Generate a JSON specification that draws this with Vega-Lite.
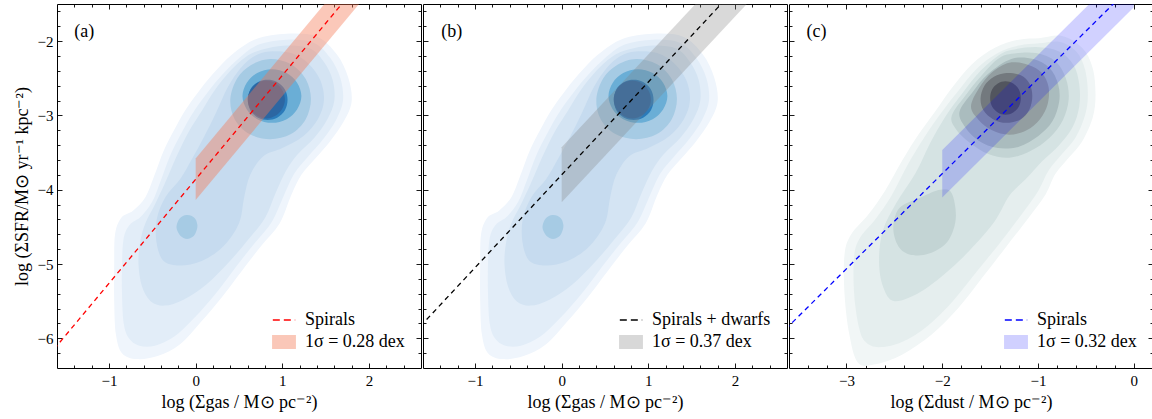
{
"$schema":"https://vega.github.io/schema/vega-lite/v6.json",
"padding":{"left":12,"top":3,"right":0,"bottom":0},
"spacing":0,
"config":{
 "view":{"stroke":"#000","strokeWidth":1},
 "font":"Liberation Serif",
 "axis":{"domain":false,"grid":false,"ticks":true,"tickColor":"#000","tickWidth":0.9,"labelFont":"Liberation Serif","labelFontSize":15,"labelColor":"#000","titleFont":"Liberation Serif","titleFontSize":18,"titleFontWeight":"normal","titleColor":"#000","minExtent":0,"labelFlush":false,"labelOverlap":false,"zindex":1},
 "legend":{"labelFont":"Liberation Serif","labelFontSize":18,"labelColor":"#000","padding":0}
},
"datasets":{
"gas":[
{"poly":"g1","lev":1,"i":0,"x":0.70,"y":-1.97},{"poly":"g1","lev":1,"i":1,"x":1.05,"y":-1.90},{"poly":"g1","lev":1,"i":2,"x":1.40,"y":-1.94},{"poly":"g1","lev":1,"i":3,"x":1.63,"y":-2.18},{"poly":"g1","lev":1,"i":4,"x":1.76,"y":-2.49},{"poly":"g1","lev":1,"i":5,"x":1.80,"y":-2.81},{"poly":"g1","lev":1,"i":6,"x":1.71,"y":-3.08},{"poly":"g1","lev":1,"i":7,"x":1.55,"y":-3.35},{"poly":"g1","lev":1,"i":8,"x":1.38,"y":-3.58},{"poly":"g1","lev":1,"i":9,"x":1.22,"y":-3.80},{"poly":"g1","lev":1,"i":10,"x":1.10,"y":-4.08},{"poly":"g1","lev":1,"i":11,"x":0.97,"y":-4.45},{"poly":"g1","lev":1,"i":12,"x":0.76,"y":-4.75},{"poly":"g1","lev":1,"i":13,"x":0.56,"y":-5.05},{"poly":"g1","lev":1,"i":14,"x":0.30,"y":-5.45},{"poly":"g1","lev":1,"i":15,"x":0.06,"y":-5.78},{"poly":"g1","lev":1,"i":16,"x":-0.18,"y":-6.08},{"poly":"g1","lev":1,"i":17,"x":-0.44,"y":-6.24},{"poly":"g1","lev":1,"i":18,"x":-0.68,"y":-6.28},{"poly":"g1","lev":1,"i":19,"x":-0.85,"y":-6.20},{"poly":"g1","lev":1,"i":20,"x":-0.92,"y":-5.95},{"poly":"g1","lev":1,"i":21,"x":-0.94,"y":-5.50},{"poly":"g1","lev":1,"i":22,"x":-0.94,"y":-5.00},{"poly":"g1","lev":1,"i":23,"x":-0.93,"y":-4.60},{"poly":"g1","lev":1,"i":24,"x":-0.86,"y":-4.38},{"poly":"g1","lev":1,"i":25,"x":-0.72,"y":-4.28},{"poly":"g1","lev":1,"i":26,"x":-0.58,"y":-4.10},{"poly":"g1","lev":1,"i":27,"x":-0.48,"y":-3.82},{"poly":"g1","lev":1,"i":28,"x":-0.37,"y":-3.48},{"poly":"g1","lev":1,"i":29,"x":-0.25,"y":-3.20},{"poly":"g1","lev":1,"i":30,"x":-0.12,"y":-2.93},{"poly":"g1","lev":1,"i":31,"x":0.02,"y":-2.70},{"poly":"g1","lev":1,"i":32,"x":0.20,"y":-2.44},{"poly":"g1","lev":1,"i":33,"x":0.42,"y":-2.18},
{"poly":"g2","lev":2,"i":0,"x":0.72,"y":-2.05},{"poly":"g2","lev":2,"i":1,"x":1.05,"y":-1.98},{"poly":"g2","lev":2,"i":2,"x":1.36,"y":-2.02},{"poly":"g2","lev":2,"i":3,"x":1.55,"y":-2.22},{"poly":"g2","lev":2,"i":4,"x":1.67,"y":-2.50},{"poly":"g2","lev":2,"i":5,"x":1.70,"y":-2.80},{"poly":"g2","lev":2,"i":6,"x":1.62,"y":-3.06},{"poly":"g2","lev":2,"i":7,"x":1.47,"y":-3.32},{"poly":"g2","lev":2,"i":8,"x":1.30,"y":-3.55},{"poly":"g2","lev":2,"i":9,"x":1.14,"y":-3.78},{"poly":"g2","lev":2,"i":10,"x":1.02,"y":-4.07},{"poly":"g2","lev":2,"i":11,"x":0.88,"y":-4.43},{"poly":"g2","lev":2,"i":12,"x":0.68,"y":-4.72},{"poly":"g2","lev":2,"i":13,"x":0.47,"y":-5.03},{"poly":"g2","lev":2,"i":14,"x":0.23,"y":-5.40},{"poly":"g2","lev":2,"i":15,"x":-0.02,"y":-5.73},{"poly":"g2","lev":2,"i":16,"x":-0.25,"y":-5.98},{"poly":"g2","lev":2,"i":17,"x":-0.47,"y":-6.10},{"poly":"g2","lev":2,"i":18,"x":-0.65,"y":-6.10},{"poly":"g2","lev":2,"i":19,"x":-0.77,"y":-6.00},{"poly":"g2","lev":2,"i":20,"x":-0.83,"y":-5.80},{"poly":"g2","lev":2,"i":21,"x":-0.85,"y":-5.40},{"poly":"g2","lev":2,"i":22,"x":-0.85,"y":-5.00},{"poly":"g2","lev":2,"i":23,"x":-0.83,"y":-4.65},{"poly":"g2","lev":2,"i":24,"x":-0.76,"y":-4.47},{"poly":"g2","lev":2,"i":25,"x":-0.63,"y":-4.36},{"poly":"g2","lev":2,"i":26,"x":-0.50,"y":-4.16},{"poly":"g2","lev":2,"i":27,"x":-0.40,"y":-3.87},{"poly":"g2","lev":2,"i":28,"x":-0.29,"y":-3.53},{"poly":"g2","lev":2,"i":29,"x":-0.17,"y":-3.25},{"poly":"g2","lev":2,"i":30,"x":-0.04,"y":-2.98},{"poly":"g2","lev":2,"i":31,"x":0.10,"y":-2.75},{"poly":"g2","lev":2,"i":32,"x":0.27,"y":-2.50},{"poly":"g2","lev":2,"i":33,"x":0.47,"y":-2.26},
{"poly":"g3","lev":3,"i":0,"x":0.75,"y":-2.12},{"poly":"g3","lev":3,"i":1,"x":1.05,"y":-2.06},{"poly":"g3","lev":3,"i":2,"x":1.32,"y":-2.10},{"poly":"g3","lev":3,"i":3,"x":1.48,"y":-2.28},{"poly":"g3","lev":3,"i":4,"x":1.58,"y":-2.52},{"poly":"g3","lev":3,"i":5,"x":1.60,"y":-2.80},{"poly":"g3","lev":3,"i":6,"x":1.52,"y":-3.05},{"poly":"g3","lev":3,"i":7,"x":1.37,"y":-3.30},{"poly":"g3","lev":3,"i":8,"x":1.18,"y":-3.52},{"poly":"g3","lev":3,"i":9,"x":1.04,"y":-3.75},{"poly":"g3","lev":3,"i":10,"x":0.92,"y":-4.05},{"poly":"g3","lev":3,"i":11,"x":0.80,"y":-4.38},{"poly":"g3","lev":3,"i":12,"x":0.60,"y":-4.68},{"poly":"g3","lev":3,"i":13,"x":0.38,"y":-4.98},{"poly":"g3","lev":3,"i":14,"x":0.12,"y":-5.28},{"poly":"g3","lev":3,"i":15,"x":-0.14,"y":-5.48},{"poly":"g3","lev":3,"i":16,"x":-0.36,"y":-5.56},{"poly":"g3","lev":3,"i":17,"x":-0.52,"y":-5.50},{"poly":"g3","lev":3,"i":18,"x":-0.62,"y":-5.30},{"poly":"g3","lev":3,"i":19,"x":-0.66,"y":-5.00},{"poly":"g3","lev":3,"i":20,"x":-0.64,"y":-4.70},{"poly":"g3","lev":3,"i":21,"x":-0.58,"y":-4.45},{"poly":"g3","lev":3,"i":22,"x":-0.47,"y":-4.20},{"poly":"g3","lev":3,"i":23,"x":-0.35,"y":-3.90},{"poly":"g3","lev":3,"i":24,"x":-0.22,"y":-3.55},{"poly":"g3","lev":3,"i":25,"x":-0.08,"y":-3.22},{"poly":"g3","lev":3,"i":26,"x":0.07,"y":-2.94},{"poly":"g3","lev":3,"i":27,"x":0.22,"y":-2.66},{"poly":"g3","lev":3,"i":28,"x":0.40,"y":-2.40},{"poly":"g3","lev":3,"i":29,"x":0.57,"y":-2.22},
{"poly":"g4","lev":4,"i":0,"x":0.85,"y":-2.14},{"poly":"g4","lev":4,"i":1,"x":1.10,"y":-2.16},{"poly":"g4","lev":4,"i":2,"x":1.30,"y":-2.30},{"poly":"g4","lev":4,"i":3,"x":1.44,"y":-2.53},{"poly":"g4","lev":4,"i":4,"x":1.48,"y":-2.80},{"poly":"g4","lev":4,"i":5,"x":1.41,"y":-3.05},{"poly":"g4","lev":4,"i":6,"x":1.24,"y":-3.28},{"poly":"g4","lev":4,"i":7,"x":1.00,"y":-3.44},{"poly":"g4","lev":4,"i":8,"x":0.78,"y":-3.55},{"poly":"g4","lev":4,"i":9,"x":0.63,"y":-3.80},{"poly":"g4","lev":4,"i":10,"x":0.56,"y":-4.10},{"poly":"g4","lev":4,"i":11,"x":0.50,"y":-4.45},{"poly":"g4","lev":4,"i":12,"x":0.32,"y":-4.76},{"poly":"g4","lev":4,"i":13,"x":0.07,"y":-4.96},{"poly":"g4","lev":4,"i":14,"x":-0.18,"y":-5.02},{"poly":"g4","lev":4,"i":15,"x":-0.37,"y":-4.96},{"poly":"g4","lev":4,"i":16,"x":-0.45,"y":-4.72},{"poly":"g4","lev":4,"i":17,"x":-0.45,"y":-4.40},{"poly":"g4","lev":4,"i":18,"x":-0.35,"y":-4.10},{"poly":"g4","lev":4,"i":19,"x":-0.18,"y":-3.86},{"poly":"g4","lev":4,"i":20,"x":-0.04,"y":-3.58},{"poly":"g4","lev":4,"i":21,"x":0.10,"y":-3.28},{"poly":"g4","lev":4,"i":22,"x":0.24,"y":-2.95},{"poly":"g4","lev":4,"i":23,"x":0.37,"y":-2.62},{"poly":"g4","lev":4,"i":24,"x":0.52,"y":-2.36},{"poly":"g4","lev":4,"i":25,"x":0.68,"y":-2.20},
{"poly":"g5a","lev":5,"i":0,"x":1.33,"y":-2.78},{"poly":"g5a","lev":5,"i":1,"x":1.27,"y":-2.51},{"poly":"g5a","lev":5,"i":2,"x":1.10,"y":-2.31},{"poly":"g5a","lev":5,"i":3,"x":0.86,"y":-2.24},{"poly":"g5a","lev":5,"i":4,"x":0.64,"y":-2.32},{"poly":"g5a","lev":5,"i":5,"x":0.48,"y":-2.50},{"poly":"g5a","lev":5,"i":6,"x":0.40,"y":-2.78},{"poly":"g5a","lev":5,"i":7,"x":0.45,"y":-3.05},{"poly":"g5a","lev":5,"i":8,"x":0.62,"y":-3.25},{"poly":"g5a","lev":5,"i":9,"x":0.86,"y":-3.32},{"poly":"g5a","lev":5,"i":10,"x":1.10,"y":-3.25},{"poly":"g5a","lev":5,"i":11,"x":1.27,"y":-3.05},
{"poly":"g5b","lev":5,"i":0,"x":0.02,"y":-4.48},{"poly":"g5b","lev":5,"i":1,"x":0.0,"y":-4.40},{"poly":"g5b","lev":5,"i":2,"x":-0.05,"y":-4.35},{"poly":"g5b","lev":5,"i":3,"x":-0.11,"y":-4.34},{"poly":"g5b","lev":5,"i":4,"x":-0.17,"y":-4.37},{"poly":"g5b","lev":5,"i":5,"x":-0.21,"y":-4.44},{"poly":"g5b","lev":5,"i":6,"x":-0.22,"y":-4.52},{"poly":"g5b","lev":5,"i":7,"x":-0.19,"y":-4.60},{"poly":"g5b","lev":5,"i":8,"x":-0.14,"y":-4.65},{"poly":"g5b","lev":5,"i":9,"x":-0.08,"y":-4.66},{"poly":"g5b","lev":5,"i":10,"x":-0.02,"y":-4.62},{"poly":"g5b","lev":5,"i":11,"x":0.01,"y":-4.55},
{"poly":"g6","lev":6,"i":0,"x":1.22,"y":-2.74},{"poly":"g6","lev":6,"i":1,"x":1.17,"y":-2.56},{"poly":"g6","lev":6,"i":2,"x":1.05,"y":-2.43},{"poly":"g6","lev":6,"i":3,"x":0.88,"y":-2.38},{"poly":"g6","lev":6,"i":4,"x":0.71,"y":-2.43},{"poly":"g6","lev":6,"i":5,"x":0.59,"y":-2.56},{"poly":"g6","lev":6,"i":6,"x":0.54,"y":-2.74},{"poly":"g6","lev":6,"i":7,"x":0.59,"y":-2.92},{"poly":"g6","lev":6,"i":8,"x":0.71,"y":-3.05},{"poly":"g6","lev":6,"i":9,"x":0.88,"y":-3.10},{"poly":"g6","lev":6,"i":10,"x":1.05,"y":-3.05},{"poly":"g6","lev":6,"i":11,"x":1.17,"y":-2.92},
{"poly":"g7","lev":7,"i":0,"x":1.06,"y":-2.79},{"poly":"g7","lev":7,"i":1,"x":1.03,"y":-2.65},{"poly":"g7","lev":7,"i":2,"x":0.94,"y":-2.55},{"poly":"g7","lev":7,"i":3,"x":0.83,"y":-2.52},{"poly":"g7","lev":7,"i":4,"x":0.72,"y":-2.55},{"poly":"g7","lev":7,"i":5,"x":0.63,"y":-2.65},{"poly":"g7","lev":7,"i":6,"x":0.605,"y":-2.79},{"poly":"g7","lev":7,"i":7,"x":0.63,"y":-2.93},{"poly":"g7","lev":7,"i":8,"x":0.72,"y":-3.03},{"poly":"g7","lev":7,"i":9,"x":0.83,"y":-3.06},{"poly":"g7","lev":7,"i":10,"x":0.94,"y":-3.03},{"poly":"g7","lev":7,"i":11,"x":1.03,"y":-2.93},
{"poly":"g8","lev":8,"i":0,"x":1.03,"y":-2.785},{"poly":"g8","lev":8,"i":1,"x":1.00,"y":-2.66},{"poly":"g8","lev":8,"i":2,"x":0.92,"y":-2.565},{"poly":"g8","lev":8,"i":3,"x":0.815,"y":-2.53},{"poly":"g8","lev":8,"i":4,"x":0.71,"y":-2.565},{"poly":"g8","lev":8,"i":5,"x":0.63,"y":-2.66},{"poly":"g8","lev":8,"i":6,"x":0.60,"y":-2.785},{"poly":"g8","lev":8,"i":7,"x":0.63,"y":-2.91},{"poly":"g8","lev":8,"i":8,"x":0.71,"y":-3.005},{"poly":"g8","lev":8,"i":9,"x":0.815,"y":-3.04},{"poly":"g8","lev":8,"i":10,"x":0.92,"y":-3.005},{"poly":"g8","lev":8,"i":11,"x":1.00,"y":-2.91}
],
"dust":[
{"poly":"d1","lev":1,"i":0,"x":-1.20,"y":-1.98},{"poly":"d1","lev":1,"i":1,"x":-0.99,"y":-1.96},{"poly":"d1","lev":1,"i":2,"x":-0.75,"y":-1.93},{"poly":"d1","lev":1,"i":3,"x":-0.54,"y":-2.09},{"poly":"d1","lev":1,"i":4,"x":-0.43,"y":-2.36},{"poly":"d1","lev":1,"i":5,"x":-0.40,"y":-2.72},{"poly":"d1","lev":1,"i":6,"x":-0.43,"y":-3.03},{"poly":"d1","lev":1,"i":7,"x":-0.54,"y":-3.35},{"poly":"d1","lev":1,"i":8,"x":-0.68,"y":-3.57},{"poly":"d1","lev":1,"i":9,"x":-0.82,"y":-3.79},{"poly":"d1","lev":1,"i":10,"x":-0.92,"y":-4.06},{"poly":"d1","lev":1,"i":11,"x":-1.10,"y":-4.38},{"poly":"d1","lev":1,"i":12,"x":-1.34,"y":-4.78},{"poly":"d1","lev":1,"i":13,"x":-1.58,"y":-5.18},{"poly":"d1","lev":1,"i":14,"x":-1.83,"y":-5.59},{"poly":"d1","lev":1,"i":15,"x":-2.11,"y":-5.95},{"poly":"d1","lev":1,"i":16,"x":-2.42,"y":-6.22},{"poly":"d1","lev":1,"i":17,"x":-2.70,"y":-6.35},{"poly":"d1","lev":1,"i":18,"x":-2.88,"y":-6.33},{"poly":"d1","lev":1,"i":19,"x":-2.97,"y":-5.95},{"poly":"d1","lev":1,"i":20,"x":-3.02,"y":-5.41},{"poly":"d1","lev":1,"i":21,"x":-3.02,"y":-4.87},{"poly":"d1","lev":1,"i":22,"x":-2.95,"y":-4.60},{"poly":"d1","lev":1,"i":23,"x":-2.77,"y":-4.33},{"poly":"d1","lev":1,"i":24,"x":-2.60,"y":-4.02},{"poly":"d1","lev":1,"i":25,"x":-2.42,"y":-3.61},{"poly":"d1","lev":1,"i":26,"x":-2.25,"y":-3.26},{"poly":"d1","lev":1,"i":27,"x":-2.07,"y":-2.94},{"poly":"d1","lev":1,"i":28,"x":-1.90,"y":-2.63},{"poly":"d1","lev":1,"i":29,"x":-1.69,"y":-2.31},{"poly":"d1","lev":1,"i":30,"x":-1.45,"y":-2.09},
{"poly":"d2","lev":2,"i":0,"x":-1.20,"y":-2.06},{"poly":"d2","lev":2,"i":1,"x":-0.99,"y":-2.03},{"poly":"d2","lev":2,"i":2,"x":-0.77,"y":-2.01},{"poly":"d2","lev":2,"i":3,"x":-0.60,"y":-2.14},{"poly":"d2","lev":2,"i":4,"x":-0.51,"y":-2.38},{"poly":"d2","lev":2,"i":5,"x":-0.48,"y":-2.72},{"poly":"d2","lev":2,"i":6,"x":-0.51,"y":-3.00},{"poly":"d2","lev":2,"i":7,"x":-0.61,"y":-3.30},{"poly":"d2","lev":2,"i":8,"x":-0.75,"y":-3.52},{"poly":"d2","lev":2,"i":9,"x":-0.89,"y":-3.74},{"poly":"d2","lev":2,"i":10,"x":-1.00,"y":-4.02},{"poly":"d2","lev":2,"i":11,"x":-1.17,"y":-4.33},{"poly":"d2","lev":2,"i":12,"x":-1.40,"y":-4.72},{"poly":"d2","lev":2,"i":13,"x":-1.64,"y":-5.10},{"poly":"d2","lev":2,"i":14,"x":-1.89,"y":-5.50},{"poly":"d2","lev":2,"i":15,"x":-2.15,"y":-5.83},{"poly":"d2","lev":2,"i":16,"x":-2.42,"y":-6.05},{"poly":"d2","lev":2,"i":17,"x":-2.66,"y":-6.12},{"poly":"d2","lev":2,"i":18,"x":-2.80,"y":-6.05},{"poly":"d2","lev":2,"i":19,"x":-2.87,"y":-5.85},{"poly":"d2","lev":2,"i":20,"x":-2.92,"y":-5.40},{"poly":"d2","lev":2,"i":21,"x":-2.92,"y":-4.90},{"poly":"d2","lev":2,"i":22,"x":-2.86,"y":-4.65},{"poly":"d2","lev":2,"i":23,"x":-2.70,"y":-4.40},{"poly":"d2","lev":2,"i":24,"x":-2.53,"y":-4.08},{"poly":"d2","lev":2,"i":25,"x":-2.36,"y":-3.66},{"poly":"d2","lev":2,"i":26,"x":-2.19,"y":-3.30},{"poly":"d2","lev":2,"i":27,"x":-2.02,"y":-2.98},{"poly":"d2","lev":2,"i":28,"x":-1.84,"y":-2.68},{"poly":"d2","lev":2,"i":29,"x":-1.64,"y":-2.37},{"poly":"d2","lev":2,"i":30,"x":-1.42,"y":-2.16},
{"poly":"d3","lev":3,"i":0,"x":-1.28,"y":-2.12},{"poly":"d3","lev":3,"i":1,"x":-1.02,"y":-2.08},{"poly":"d3","lev":3,"i":2,"x":-0.78,"y":-2.14},{"poly":"d3","lev":3,"i":3,"x":-0.63,"y":-2.32},{"poly":"d3","lev":3,"i":4,"x":-0.57,"y":-2.58},{"poly":"d3","lev":3,"i":5,"x":-0.57,"y":-2.88},{"poly":"d3","lev":3,"i":6,"x":-0.64,"y":-3.16},{"poly":"d3","lev":3,"i":7,"x":-0.78,"y":-3.40},{"poly":"d3","lev":3,"i":8,"x":-0.96,"y":-3.62},{"poly":"d3","lev":3,"i":9,"x":-1.13,"y":-3.86},{"poly":"d3","lev":3,"i":10,"x":-1.30,"y":-4.08},{"poly":"d3","lev":3,"i":11,"x":-1.45,"y":-4.42},{"poly":"d3","lev":3,"i":12,"x":-1.66,"y":-4.74},{"poly":"d3","lev":3,"i":13,"x":-1.90,"y":-5.05},{"poly":"d3","lev":3,"i":14,"x":-2.22,"y":-5.37},{"poly":"d3","lev":3,"i":15,"x":-2.50,"y":-5.50},{"poly":"d3","lev":3,"i":16,"x":-2.62,"y":-5.30},{"poly":"d3","lev":3,"i":17,"x":-2.66,"y":-4.95},{"poly":"d3","lev":3,"i":18,"x":-2.62,"y":-4.55},{"poly":"d3","lev":3,"i":19,"x":-2.48,"y":-4.18},{"poly":"d3","lev":3,"i":20,"x":-2.28,"y":-3.78},{"poly":"d3","lev":3,"i":21,"x":-2.13,"y":-3.38},{"poly":"d3","lev":3,"i":22,"x":-1.97,"y":-3.02},{"poly":"d3","lev":3,"i":23,"x":-1.79,"y":-2.70},{"poly":"d3","lev":3,"i":24,"x":-1.60,"y":-2.40},{"poly":"d3","lev":3,"i":25,"x":-1.42,"y":-2.20},
{"poly":"d4a","lev":4,"i":0,"x":-1.28,"y":-2.17},{"poly":"d4a","lev":4,"i":1,"x":-1.02,"y":-2.16},{"poly":"d4a","lev":4,"i":2,"x":-0.82,"y":-2.27},{"poly":"d4a","lev":4,"i":3,"x":-0.71,"y":-2.50},{"poly":"d4a","lev":4,"i":4,"x":-0.68,"y":-2.78},{"poly":"d4a","lev":4,"i":5,"x":-0.74,"y":-3.06},{"poly":"d4a","lev":4,"i":6,"x":-0.88,"y":-3.30},{"poly":"d4a","lev":4,"i":7,"x":-1.08,"y":-3.48},{"poly":"d4a","lev":4,"i":8,"x":-1.30,"y":-3.57},{"poly":"d4a","lev":4,"i":9,"x":-1.52,"y":-3.52},{"poly":"d4a","lev":4,"i":10,"x":-1.72,"y":-3.36},{"poly":"d4a","lev":4,"i":11,"x":-1.86,"y":-3.18},{"poly":"d4a","lev":4,"i":12,"x":-1.90,"y":-3.00},{"poly":"d4a","lev":4,"i":13,"x":-1.74,"y":-2.70},{"poly":"d4a","lev":4,"i":14,"x":-1.56,"y":-2.42},{"poly":"d4a","lev":4,"i":15,"x":-1.42,"y":-2.24},
{"poly":"d4b","lev":4,"i":0,"x":-2.02,"y":-4.00},{"poly":"d4b","lev":4,"i":1,"x":-1.90,"y":-4.05},{"poly":"d4b","lev":4,"i":2,"x":-1.86,"y":-4.40},{"poly":"d4b","lev":4,"i":3,"x":-1.96,"y":-4.72},{"poly":"d4b","lev":4,"i":4,"x":-2.20,"y":-4.88},{"poly":"d4b","lev":4,"i":5,"x":-2.42,"y":-4.82},{"poly":"d4b","lev":4,"i":6,"x":-2.51,"y":-4.55},{"poly":"d4b","lev":4,"i":7,"x":-2.45,"y":-4.25},{"poly":"d4b","lev":4,"i":8,"x":-2.22,"y":-4.10},
{"poly":"d5","lev":5,"i":0,"x":-1.28,"y":-2.24},{"poly":"d5","lev":5,"i":1,"x":-1.05,"y":-2.24},{"poly":"d5","lev":5,"i":2,"x":-0.88,"y":-2.36},{"poly":"d5","lev":5,"i":3,"x":-0.79,"y":-2.58},{"poly":"d5","lev":5,"i":4,"x":-0.78,"y":-2.82},{"poly":"d5","lev":5,"i":5,"x":-0.85,"y":-3.08},{"poly":"d5","lev":5,"i":6,"x":-1.00,"y":-3.28},{"poly":"d5","lev":5,"i":7,"x":-1.20,"y":-3.42},{"poly":"d5","lev":5,"i":8,"x":-1.42,"y":-3.44},{"poly":"d5","lev":5,"i":9,"x":-1.62,"y":-3.34},{"poly":"d5","lev":5,"i":10,"x":-1.76,"y":-3.16},{"poly":"d5","lev":5,"i":11,"x":-1.82,"y":-2.95},{"poly":"d5","lev":5,"i":12,"x":-1.68,"y":-2.68},{"poly":"d5","lev":5,"i":13,"x":-1.52,"y":-2.44},
{"poly":"d6","lev":6,"i":0,"x":-1.30,"y":-2.29},{"poly":"d6","lev":6,"i":1,"x":-1.10,"y":-2.32},{"poly":"d6","lev":6,"i":2,"x":-0.96,"y":-2.43},{"poly":"d6","lev":6,"i":3,"x":-0.89,"y":-2.62},{"poly":"d6","lev":6,"i":4,"x":-0.90,"y":-2.85},{"poly":"d6","lev":6,"i":5,"x":-0.98,"y":-3.05},{"poly":"d6","lev":6,"i":6,"x":-1.12,"y":-3.20},{"poly":"d6","lev":6,"i":7,"x":-1.30,"y":-3.26},{"poly":"d6","lev":6,"i":8,"x":-1.48,"y":-3.20},{"poly":"d6","lev":6,"i":9,"x":-1.62,"y":-3.06},{"poly":"d6","lev":6,"i":10,"x":-1.70,"y":-2.88},{"poly":"d6","lev":6,"i":11,"x":-1.62,"y":-2.64},{"poly":"d6","lev":6,"i":12,"x":-1.48,"y":-2.42},
{"poly":"d7","lev":7,"i":0,"x":-1.33,"y":-2.43},{"poly":"d7","lev":7,"i":1,"x":-1.18,"y":-2.46},{"poly":"d7","lev":7,"i":2,"x":-1.09,"y":-2.57},{"poly":"d7","lev":7,"i":3,"x":-1.06,"y":-2.74},{"poly":"d7","lev":7,"i":4,"x":-1.09,"y":-2.92},{"poly":"d7","lev":7,"i":5,"x":-1.18,"y":-3.05},{"poly":"d7","lev":7,"i":6,"x":-1.33,"y":-3.10},{"poly":"d7","lev":7,"i":7,"x":-1.47,"y":-3.05},{"poly":"d7","lev":7,"i":8,"x":-1.57,"y":-2.93},{"poly":"d7","lev":7,"i":9,"x":-1.60,"y":-2.77},{"poly":"d7","lev":7,"i":10,"x":-1.56,"y":-2.60},{"poly":"d7","lev":7,"i":11,"x":-1.46,"y":-2.48},
{"poly":"d8","lev":8,"i":0,"x":-1.18,"y":-2.765},{"poly":"d8","lev":8,"i":1,"x":-1.20,"y":-2.65},{"poly":"d8","lev":8,"i":2,"x":-1.26,"y":-2.57},{"poly":"d8","lev":8,"i":3,"x":-1.34,"y":-2.54},{"poly":"d8","lev":8,"i":4,"x":-1.42,"y":-2.57},{"poly":"d8","lev":8,"i":5,"x":-1.48,"y":-2.65},{"poly":"d8","lev":8,"i":6,"x":-1.50,"y":-2.765},{"poly":"d8","lev":8,"i":7,"x":-1.48,"y":-2.88},{"poly":"d8","lev":8,"i":8,"x":-1.42,"y":-2.96},{"poly":"d8","lev":8,"i":9,"x":-1.34,"y":-2.99},{"poly":"d8","lev":8,"i":10,"x":-1.26,"y":-2.96},{"poly":"d8","lev":8,"i":11,"x":-1.20,"y":-2.88}
]
},
"hconcat":[
{
 "width":364,"height":364,
 "layer":[
  {"data":{"name":"gas"},
   "mark":{"type":"line","interpolate":"cardinal-closed","strokeWidth":0,"clip":true},
   "encoding":{
    "x":{"field":"x","type":"quantitative","scale":{"domain":[-1.6,2.6],"nice":false,"zero":false},"axis":{"orient":"bottom","values":[-1,0,1,2],"tickSize":-5,"labelPadding":10,"title":"log (Σgas / M⊙ pc⁻²)","titlePadding":5}},
    "y":{"field":"y","type":"quantitative","scale":{"domain":[-6.4,-1.5],"nice":false,"zero":false},"axis":{"orient":"left","values":[-6,-5,-4,-3,-2],"tickSize":-5,"labelPadding":9,"title":"log (ΣSFR/M⊙ yr⁻¹ kpc⁻²)","titlePadding":6}},
    "fill":{"field":"lev","type":"ordinal","scale":{"domain":[1,2,3,4,5,6,7,8],"range":["#eff5fc","#e2edf8","#d4e4f3","#c6dbef","#a6cbe4","#6aaed6","#2b7bba","#2c66a2"]},"legend":null},
    "detail":{"field":"poly","type":"nominal"},
    "order":{"field":"i","type":"quantitative"}
   }},
  {"data":{"values":[{"series":"1σ = 0.28 dex","x":0,"lo":-4.14,"hi":-3.58},{"series":"1σ = 0.28 dex","x":2.0,"lo":-1.34,"hi":-0.78}]},
   "mark":{"type":"area","opacity":0.4,"clip":true},
   "encoding":{
    "x":{"field":"x","type":"quantitative","axis":{"orient":"bottom","values":[-1.4,-1.2,-0.8,-0.6,-0.4,-0.2,0.2,0.4,0.6,0.8,1.2,1.4,1.6,1.8,2.2,2.4],"tickSize":-3,"labels":false,"title":null}},
    "y":{"field":"hi","type":"quantitative","axis":{"orient":"left","values":[-6.2,-5.8,-5.6,-5.4,-5.2,-4.8,-4.6,-4.4,-4.2,-3.8,-3.6,-3.4,-3.2,-2.8,-2.6,-2.4,-2.2,-1.8,-1.6],"tickSize":-3,"labels":false,"title":null}},
    "y2":{"field":"lo"},
    "color":{"field":"series","type":"nominal","scale":{"domain":["Spirals","1σ = 0.28 dex"],"range":["#ff0000","#f4764f"]},
      "legend":{"orient":"bottom-right","title":null,"offset":16,"symbolSize":500,"rowPadding":1,"labelOffset":9,"labelFontSize":18,
        "encode":{"symbols":{"update":{
          "shape":{"signal":"datum.value === 'Spirals' ? 'M-1,0H1' : 'M-1,-0.55H1V0.55H-1Z'"},
          "fill":{"signal":"datum.value === 'Spirals' ? 'transparent' : '#f4764f'"},
          "stroke":{"signal":"datum.value === 'Spirals' ? '#ff0000' : 'transparent'"},
          "strokeDash":{"signal":"datum.value === 'Spirals' ? [7,4] : [1,0]"},
          "strokeWidth":{"value":1.5},"opacity":{"signal":"datum.value === 'Spirals' ? 1 : 0.4"}}}}}}
   }},
  {"data":{"values":[{"series":"Spirals","x":-1.7,"y":-6.24},{"series":"Spirals","x":2.0,"y":-1.06}]},
   "mark":{"type":"line","strokeDash":[5,4],"strokeWidth":1.3,"clip":true},
   "encoding":{
    "x":{"field":"x","type":"quantitative","axis":{"orient":"top","values":[-1,0,1,2],"tickSize":-5,"labels":false,"title":null}},
    "y":{"field":"y","type":"quantitative","axis":{"orient":"right","values":[-6,-5,-4,-3,-2],"tickSize":-5,"labels":false,"title":null}},
    "color":{"field":"series","type":"nominal","scale":{"domain":["Spirals","1σ = 0.28 dex"],"range":["#ff0000","#f4764f"]},
      "legend":{"orient":"bottom-right","title":null,"offset":16,"symbolSize":500,"rowPadding":1,"labelOffset":9,"labelFontSize":18,
        "encode":{"symbols":{"update":{
          "shape":{"signal":"datum.value === 'Spirals' ? 'M-1,0H1' : 'M-1,-0.55H1V0.55H-1Z'"},
          "fill":{"signal":"datum.value === 'Spirals' ? 'transparent' : '#f4764f'"},
          "stroke":{"signal":"datum.value === 'Spirals' ? '#ff0000' : 'transparent'"},
          "strokeDash":{"signal":"datum.value === 'Spirals' ? [7,4] : [1,0]"},
          "strokeWidth":{"value":1.5},"opacity":{"signal":"datum.value === 'Spirals' ? 1 : 0.4"}}}}}}
   }},
  {"data":{"values":[{"label":"(a)","x":-1.287,"y":-1.872}]},
   "mark":{"type":"text","font":"Liberation Serif","fontSize":18,"align":"center","baseline":"middle","color":"#000"},
   "encoding":{
    "x":{"field":"x","type":"quantitative","axis":{"orient":"top","values":[-1.4,-1.2,-0.8,-0.6,-0.4,-0.2,0.2,0.4,0.6,0.8,1.2,1.4,1.6,1.8,2.2,2.4],"tickSize":-3,"labels":false,"title":null}},
    "y":{"field":"y","type":"quantitative","axis":{"orient":"right","values":[-6.2,-5.8,-5.6,-5.4,-5.2,-4.8,-4.6,-4.4,-4.2,-3.8,-3.6,-3.4,-3.2,-2.8,-2.6,-2.4,-2.2,-1.8,-1.6],"tickSize":-3,"labels":false,"title":null}},
    "text":{"field":"label"}
   }}
 ],
 "resolve":{"axis":{"x":"independent","y":"independent"}}
},
{
 "width":364,"height":364,
 "layer":[
  {"data":{"name":"gas"},
   "mark":{"type":"line","interpolate":"cardinal-closed","strokeWidth":0,"clip":true},
   "encoding":{
    "x":{"field":"x","type":"quantitative","scale":{"domain":[-1.6,2.6],"nice":false,"zero":false},"axis":{"orient":"bottom","values":[-1,0,1,2],"tickSize":-5,"labelPadding":10,"title":"log (Σgas / M⊙ pc⁻²)","titlePadding":5}},
    "y":{"field":"y","type":"quantitative","scale":{"domain":[-6.4,-1.5],"nice":false,"zero":false},"axis":{"orient":"left","values":[-6,-5,-4,-3,-2],"tickSize":-5,"labels":false,"title":null}},
    "fill":{"field":"lev","type":"ordinal","scale":{"domain":[1,2,3,4,5,6,7,8],"range":["#eff5fc","#e2edf8","#d4e4f3","#c6dbef","#a6cbe4","#6aaed6","#2b7bba","#2c66a2"]},"legend":null},
    "detail":{"field":"poly","type":"nominal"},
    "order":{"field":"i","type":"quantitative"}
   }},
  {"data":{"values":[{"series":"1σ = 0.37 dex","x":0,"lo":-4.17,"hi":-3.43},{"series":"1σ = 0.37 dex","x":2.2,"lo":-1.42,"hi":-0.68}]},
   "mark":{"type":"area","opacity":0.3,"clip":true},
   "encoding":{
    "x":{"field":"x","type":"quantitative","axis":{"orient":"bottom","values":[-1.4,-1.2,-0.8,-0.6,-0.4,-0.2,0.2,0.4,0.6,0.8,1.2,1.4,1.6,1.8,2.2,2.4],"tickSize":-3,"labels":false,"title":null}},
    "y":{"field":"hi","type":"quantitative","axis":{"orient":"left","values":[-6.2,-5.8,-5.6,-5.4,-5.2,-4.8,-4.6,-4.4,-4.2,-3.8,-3.6,-3.4,-3.2,-2.8,-2.6,-2.4,-2.2,-1.8,-1.6],"tickSize":-3,"labels":false,"title":null}},
    "y2":{"field":"lo"},
    "color":{"field":"series","type":"nominal","scale":{"domain":["Spirals + dwarfs","1σ = 0.37 dex"],"range":["#000000","#808080"]},
      "legend":{"orient":"bottom-right","title":null,"offset":16,"symbolSize":500,"rowPadding":1,"labelOffset":9,"labelFontSize":18,
        "encode":{"symbols":{"update":{
          "shape":{"signal":"datum.value === 'Spirals + dwarfs' ? 'M-1,0H1' : 'M-1,-0.55H1V0.55H-1Z'"},
          "fill":{"signal":"datum.value === 'Spirals + dwarfs' ? 'transparent' : '#808080'"},
          "stroke":{"signal":"datum.value === 'Spirals + dwarfs' ? '#000000' : 'transparent'"},
          "strokeDash":{"signal":"datum.value === 'Spirals + dwarfs' ? [7,4] : [1,0]"},
          "strokeWidth":{"value":1.5},"opacity":{"signal":"datum.value === 'Spirals + dwarfs' ? 1 : 0.3"}}}}}}
   }},
  {"data":{"values":[{"series":"Spirals + dwarfs","x":-1.7,"y":-5.925},{"series":"Spirals + dwarfs","x":2.2,"y":-1.05}]},
   "mark":{"type":"line","strokeDash":[5,4],"strokeWidth":1.3,"clip":true},
   "encoding":{
    "x":{"field":"x","type":"quantitative","axis":{"orient":"top","values":[-1,0,1,2],"tickSize":-5,"labels":false,"title":null}},
    "y":{"field":"y","type":"quantitative","axis":{"orient":"right","values":[-6,-5,-4,-3,-2],"tickSize":-5,"labels":false,"title":null}},
    "color":{"field":"series","type":"nominal","scale":{"domain":["Spirals + dwarfs","1σ = 0.37 dex"],"range":["#000000","#808080"]},
      "legend":{"orient":"bottom-right","title":null,"offset":16,"symbolSize":500,"rowPadding":1,"labelOffset":9,"labelFontSize":18,
        "encode":{"symbols":{"update":{
          "shape":{"signal":"datum.value === 'Spirals + dwarfs' ? 'M-1,0H1' : 'M-1,-0.55H1V0.55H-1Z'"},
          "fill":{"signal":"datum.value === 'Spirals + dwarfs' ? 'transparent' : '#808080'"},
          "stroke":{"signal":"datum.value === 'Spirals + dwarfs' ? '#000000' : 'transparent'"},
          "strokeDash":{"signal":"datum.value === 'Spirals + dwarfs' ? [7,4] : [1,0]"},
          "strokeWidth":{"value":1.5},"opacity":{"signal":"datum.value === 'Spirals + dwarfs' ? 1 : 0.3"}}}}}}
   }},
  {"data":{"values":[{"label":"(b)","x":-1.267,"y":-1.872}]},
   "mark":{"type":"text","font":"Liberation Serif","fontSize":18,"align":"center","baseline":"middle","color":"#000"},
   "encoding":{
    "x":{"field":"x","type":"quantitative","axis":{"orient":"top","values":[-1.4,-1.2,-0.8,-0.6,-0.4,-0.2,0.2,0.4,0.6,0.8,1.2,1.4,1.6,1.8,2.2,2.4],"tickSize":-3,"labels":false,"title":null}},
    "y":{"field":"y","type":"quantitative","axis":{"orient":"right","values":[-6.2,-5.8,-5.6,-5.4,-5.2,-4.8,-4.6,-4.4,-4.2,-3.8,-3.6,-3.4,-3.2,-2.8,-2.6,-2.4,-2.2,-1.8,-1.6],"tickSize":-3,"labels":false,"title":null}},
    "text":{"field":"label"}
   }}
 ],
 "resolve":{"axis":{"x":"independent","y":"independent"}}
},
{
 "width":364,"height":364,
 "layer":[
  {"data":{"name":"dust"},
   "mark":{"type":"line","interpolate":"cardinal-closed","strokeWidth":0,"clip":true},
   "encoding":{
    "x":{"field":"x","type":"quantitative","scale":{"domain":[-3.6,0.2],"nice":false,"zero":false},"axis":{"orient":"bottom","values":[-3,-2,-1,0],"tickSize":-5,"labelPadding":10,"title":"log (Σdust / M⊙ pc⁻²)","titlePadding":5}},
    "y":{"field":"y","type":"quantitative","scale":{"domain":[-6.4,-1.5],"nice":false,"zero":false},"axis":{"orient":"left","values":[-6,-5,-4,-3,-2],"tickSize":-5,"labels":false,"title":null}},
    "fill":{"field":"lev","type":"ordinal","scale":{"domain":[1,2,3,4,5,6,7,8],"range":["#f1f6f6","#e5eeee","#d5e3e3","#c3d4d4","#aabcbe","#939ea1","#73797e","#52555e"]},"legend":null},
    "detail":{"field":"poly","type":"nominal"},
    "order":{"field":"i","type":"quantitative"}
   }},
  {"data":{"values":[{"series":"1σ = 0.32 dex","x":-2,"lo":-4.105,"hi":-3.465},{"series":"1σ = 0.32 dex","x":0,"lo":-1.545,"hi":-0.905}]},
   "mark":{"type":"area","opacity":0.18,"clip":true},
   "encoding":{
    "x":{"field":"x","type":"quantitative","axis":{"orient":"bottom","values":[-3.4,-3.2,-2.8,-2.6,-2.4,-2.2,-1.8,-1.6,-1.4,-1.2,-0.8,-0.6,-0.4,-0.2],"tickSize":-3,"labels":false,"title":null}},
    "y":{"field":"hi","type":"quantitative","axis":{"orient":"left","values":[-6.2,-5.8,-5.6,-5.4,-5.2,-4.8,-4.6,-4.4,-4.2,-3.8,-3.6,-3.4,-3.2,-2.8,-2.6,-2.4,-2.2,-1.8,-1.6],"tickSize":-3,"labels":false,"title":null}},
    "y2":{"field":"lo"},
    "color":{"field":"series","type":"nominal","scale":{"domain":["Spirals","1σ = 0.32 dex"],"range":["#0000ff","#0000ff"]},
      "legend":{"orient":"bottom-right","title":null,"offset":16,"symbolSize":500,"rowPadding":1,"labelOffset":9,"labelFontSize":18,
        "encode":{"symbols":{"update":{
          "shape":{"signal":"datum.value === 'Spirals' ? 'M-1,0H1' : 'M-1,-0.55H1V0.55H-1Z'"},
          "fill":{"signal":"datum.value === 'Spirals' ? 'transparent' : '#0000ff'"},
          "stroke":{"signal":"datum.value === 'Spirals' ? '#0000ff' : 'transparent'"},
          "strokeDash":{"signal":"datum.value === 'Spirals' ? [7,4] : [1,0]"},
          "strokeWidth":{"value":1.5},"opacity":{"signal":"datum.value === 'Spirals' ? 1 : 0.18"}}}}}}
   }},
  {"data":{"values":[{"series":"Spirals","x":-3.7,"y":-5.96},{"series":"Spirals","x":0,"y":-1.225}]},
   "mark":{"type":"line","strokeDash":[5,4],"strokeWidth":1.3,"clip":true},
   "encoding":{
    "x":{"field":"x","type":"quantitative","axis":{"orient":"top","values":[-3,-2,-1,0],"tickSize":-5,"labels":false,"title":null}},
    "y":{"field":"y","type":"quantitative","axis":{"orient":"right","values":[-6,-5,-4,-3,-2],"tickSize":-5,"labels":false,"title":null}},
    "color":{"field":"series","type":"nominal","scale":{"domain":["Spirals","1σ = 0.32 dex"],"range":["#0000ff","#0000ff"]},
      "legend":{"orient":"bottom-right","title":null,"offset":16,"symbolSize":500,"rowPadding":1,"labelOffset":9,"labelFontSize":18,
        "encode":{"symbols":{"update":{
          "shape":{"signal":"datum.value === 'Spirals' ? 'M-1,0H1' : 'M-1,-0.55H1V0.55H-1Z'"},
          "fill":{"signal":"datum.value === 'Spirals' ? 'transparent' : '#0000ff'"},
          "stroke":{"signal":"datum.value === 'Spirals' ? '#0000ff' : 'transparent'"},
          "strokeDash":{"signal":"datum.value === 'Spirals' ? [7,4] : [1,0]"},
          "strokeWidth":{"value":1.5},"opacity":{"signal":"datum.value === 'Spirals' ? 1 : 0.18"}}}}}}
   }},
  {"data":{"values":[{"label":"(c)","x":-3.314,"y":-1.872}]},
   "mark":{"type":"text","font":"Liberation Serif","fontSize":18,"align":"center","baseline":"middle","color":"#000"},
   "encoding":{
    "x":{"field":"x","type":"quantitative","axis":{"orient":"top","values":[-3.4,-3.2,-2.8,-2.6,-2.4,-2.2,-1.8,-1.6,-1.4,-1.2,-0.8,-0.6,-0.4,-0.2],"tickSize":-3,"labels":false,"title":null}},
    "y":{"field":"y","type":"quantitative","axis":{"orient":"right","values":[-6.2,-5.8,-5.6,-5.4,-5.2,-4.8,-4.6,-4.4,-4.2,-3.8,-3.6,-3.4,-3.2,-2.8,-2.6,-2.4,-2.2,-1.8,-1.6],"tickSize":-3,"labels":false,"title":null}},
    "text":{"field":"label"}
   }}
 ],
 "resolve":{"axis":{"x":"independent","y":"independent"}}
}
],
"resolve":{"scale":{"x":"independent","y":"independent","fill":"independent","color":"independent"},"legend":{"color":"independent","fill":"independent"}}
}
